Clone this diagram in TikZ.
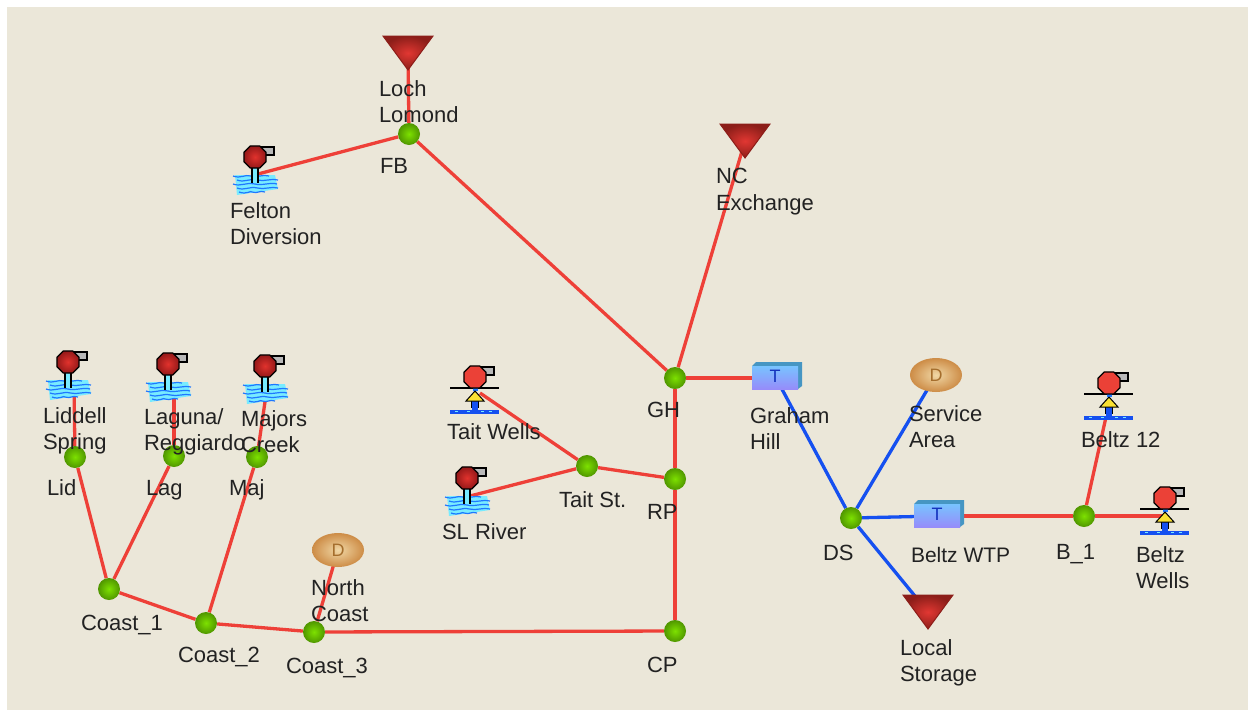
\documentclass[tikz,border=0pt]{standalone}
\usepackage{fontspec}
\usetikzlibrary{backgrounds}
\setmainfont{Liberation Sans}
\newcommand{\octpath}[1]{(22.5:#1)--(67.5:#1)--(112.5:#1)--(157.5:#1)--(202.5:#1)--(247.5:#1)--(292.5:#1)--(337.5:#1)--cycle}
\definecolor{bgc}{HTML}{EBE7D9}
\definecolor{redl}{HTML}{EE4038}
\definecolor{bluel}{HTML}{1550F0}
\definecolor{txt}{HTML}{222222}
\definecolor{jin}{RGB}{125,225,0}
\definecolor{jout}{RGB}{80,150,0}
\definecolor{headin}{RGB}{225,50,45}
\definecolor{headout}{RGB}{150,25,25}
\definecolor{wellyel}{RGB}{250,225,50}
\definecolor{wellred}{RGB}{235,65,55}
\definecolor{tankside}{RGB}{70,150,195}
\definecolor{tanktop}{RGB}{120,195,255}
\definecolor{tankbot}{RGB}{150,140,250}
\definecolor{tanktxt}{RGB}{20,50,190}
\definecolor{demin}{RGB}{240,215,165}
\definecolor{demout}{RGB}{205,140,70}
\definecolor{demtxt}{RGB}{165,110,45}
\definecolor{sinkin}{RGB}{225,55,50}
\definecolor{sinkout}{RGB}{140,30,25}
\definecolor{waterl}{RGB}{120,235,255}
\definecolor{waterd}{RGB}{30,120,255}
\tikzset{
  redge/.style={draw=redl,line width=3.3pt},
  bedge/.style={draw=bluel,line width=3.3pt},
  junction/.style={circle,inner sep=0pt,minimum size=22pt,shading=radial,inner color=jin,outer color=jout},
  lbl/.style={anchor=north west,inner sep=0pt,outer sep=0pt,align=left,text=txt,yshift=18.6pt,
     font=\fontsize{22}{26.6}\selectfont,execute at begin node=\strut},
  spoutpic/.pic={
    \draw[draw=black,line width=1.3pt,fill=gray!55] (-3,-10) rectangle (19,-2);
  },
  riverpic/.pic={
    \pic {spoutpic};
    \fill[waterl] (-20,18) -- (20,18) -- (23,32) -- (-18,38) -- cycle;
    \foreach \yy/\xa/\xb in {19/-22/14,23/-18/23,27/-22/22,31/-18/23,35/-16/10}{
      \draw[waterd,line width=1.2pt] (\xa,\yy) .. controls (\xa+8,\yy+3) and (\xa+12,\yy-2) .. (\xa/2+\xb/2,\yy) .. controls (\xa/2+\xb/2+6,\yy+2) and (\xb-6,\yy-2) .. (\xb,\yy);
    }
    \fill[waterl] (-3,8) rectangle (3,26);
    \draw[black,line width=1.2pt] (-3,8) -- (-3,26) (3,8) -- (3,26);
    \shade[inner color=headin,outer color=headout,draw=black,line width=1.2pt] \octpath{12};
  },
  wellpic/.pic={
    \pic {spoutpic};
    \fill[bluel] (-25,33) rectangle (24,37);
    \foreach \xx in {-20,-8,6,14}{\fill[waterl] (\xx,33.5) rectangle (\xx+3,35);}
    \fill[bluel] (-3,22) rectangle (3,34);
    \draw[black,line width=1pt] (-3.5,24) -- (-3.5,31) (3.5,24) -- (3.5,31);
    \draw[black,line width=1.1pt] (-25,11) -- (24,11);
    \fill[waterd] (-2.5,8) rectangle (2.5,14);
    \draw[black,line width=1pt,fill=wellyel] (0,14) -- (9,24) -- (-9,24) -- cycle;
    \draw[black,line width=1.2pt,fill=wellred] \octpath{12};
  },
  tankpic/.pic={
    \fill[tankside] (0,4) -- (4,0) -- (50,0) -- (50,24) -- (46,27) -- cycle;
    \shade[top color=tanktop,bottom color=tankbot] (0,4) rectangle (46,27);
    \node[inner sep=0pt,text=tanktxt,font=\fontsize{18}{20}\selectfont] (-tlabel) at (23,14.5) {T};
  },
  demandpic/.pic={
    \shade[inner color=demin,outer color=demout] (0,0) ellipse [x radius=26,y radius=17];
    \node[inner sep=0pt,text=demtxt,font=\fontsize{18}{20}\selectfont] (-dlabel) at (0,0) {D};
  },
  sinkpic/.pic={
    \shade[inner color=sinkin,outer color=sinkout,draw=sinkout,line width=1pt] (-25,-17) -- (25,-17) -- (0,17) -- cycle;
  },
}
\begin{document}
\begin{tikzpicture}[x=1pt,y=-1pt]
\useasboundingbox (0,0) rectangle (1248,710);

% endpoints
\coordinate (loch) at (408,53);
\coordinate (nc) at (745,141);
\coordinate (local) at (928,612);
\coordinate (felton) at (258,174);
\coordinate (slriver) at (470,496);
\coordinate (liddell) at (74,385);
\coordinate (laguna) at (174,385);
\coordinate (majors) at (266,395);
\coordinate (taitwells) at (480,393);
\coordinate (beltz12) at (1106,417);
\coordinate (beltzwells) at (1165,516);
\coordinate (grahamt) at (776,378);
\coordinate (wtp) at (938,516);
\coordinate (service) at (936,375);
\coordinate (ncoast) at (338,550);

% junctions
\node[junction] (FB) at (409,134) {};
\node[junction] (GH) at (675,378) {};
\node[junction] (RP) at (675,479) {};
\node[junction] (CP) at (675,631) {};
\node[junction] (TS) at (587,466) {};
\node[junction] (DS) at (851,518) {};
\node[junction] (B1) at (1084,516) {};
\node[junction] (Lid) at (75,457) {};
\node[junction] (Lag) at (174,456) {};
\node[junction] (Maj) at (257,457) {};
\node[junction] (C1) at (109,589) {};
\node[junction] (C2) at (206,623) {};
\node[junction] (C3) at (314,632) {};

% background and connectors
\begin{scope}[on background layer]
\fill[white] (0,0) rectangle (1248,710);
\fill[bgc] (7,7) rectangle (1248,710);
\draw[redge] (loch) -- (FB);
\draw[redge] (felton) -- (FB);
\draw[redge] (FB) -- (GH);
\draw[redge] (nc) -- (GH);
\draw[redge] (GH) -- (RP);
\draw[redge] (RP) -- (CP);
\draw[redge] (CP) -- (C3);
\draw[redge] (C3) -- (C2);
\draw[redge] (C2) -- (C1);
\draw[redge] (C3) -- (ncoast);
\draw[redge] (C1) -- (Lid);
\draw[redge] (C1) -- (Lag);
\draw[redge] (C2) -- (Maj);
\draw[redge] (Lid) -- (liddell);
\draw[redge] (Lag) -- (laguna);
\draw[redge] (Maj) -- (majors);
\draw[redge] (TS) -- (taitwells);
\draw[redge] (slriver) -- (TS);
\draw[redge] (TS) -- (RP);
\draw[redge] (GH) -- (grahamt);
\draw[redge] (wtp) -- (B1);
\draw[redge] (B1) -- (beltz12);
\draw[redge] (B1) -- (beltzwells);
\draw[bedge] (grahamt) -- (DS);
\draw[bedge] (service) -- (DS);
\draw[bedge] (DS) -- (wtp);
\draw[bedge] (DS) -- (local);
\end{scope}

% icons
\pic at (loch) {sinkpic};
\pic at (nc) {sinkpic};
\pic at (local) {sinkpic};
\pic at (255,157) {riverpic};
\pic at (467,478) {riverpic};
\pic at (68,362) {riverpic};
\pic at (168,364) {riverpic};
\pic at (265,366) {riverpic};
\pic at (475,377) {wellpic};
\pic at (1109,383) {wellpic};
\pic at (1165,498) {wellpic};
\pic (gt) at (752,362) {tankpic};
\pic (bt) at (914,500) {tankpic};
\pic (sd) at (service) {demandpic};
\pic (nd) at (ncoast) {demandpic};

% labels
\node[lbl] (lLoch) at (379,99) {Loch\\Lomond};
\node[lbl] (lFB) at (380,173) {FB};
\node[lbl] (lFelton) at (230,221) {Felton\\Diversion};
\node[lbl] (lNC) at (716,187) {NC\\Exchange};
\node[lbl] (lLiddell) at (43,426) {Liddell\\Spring};
\node[lbl] (lLid) at (47,495) {Lid};
\node[lbl] (lLaguna) at (144,427) {Laguna/\\Reggiardo};
\node[lbl] (lLag) at (146,495) {Lag};
\node[lbl] (lMajors) at (241,429) {Majors\\Creek};
\node[lbl] (lMaj) at (229,495) {Maj};
\node[lbl] (lTW) at (447,439) {Tait Wells};
\node[lbl] (lTS) at (559,507) {Tait St.};
\node[lbl] (lSL) at (442,539) {SL River};
\node[lbl] (lRP) at (647,519) {RP};
\node[lbl] (lGH) at (647,417) {GH};
\node[lbl] (lCP) at (647,672) {CP};
\node[lbl] (lGraham) at (750,426) {Graham\\Hill};
\node[lbl] (lService) at (909,424) {Service\\Area};
\node[lbl] (lB12) at (1081,447) {Beltz 12};
\node[lbl] (lDS) at (823,560) {DS};
\node[lbl,font=\fontsize{21}{26.6}\selectfont] (lWTP) at (911,562) {Beltz WTP};
\node[lbl] (lB1) at (1056,559) {B\_1};
\node[lbl] (lBW) at (1136,565) {Beltz\\Wells};
\node[lbl] (lLocal) at (900,658) {Local\\Storage};
\node[lbl] (lC1) at (81,630) {Coast\_1};
\node[lbl] (lC2) at (178,662) {Coast\_2};
\node[lbl] (lC3) at (286,673) {Coast\_3};
\node[lbl] (lNorth) at (311,598) {North\\Coast};
\end{tikzpicture}
\end{document}
